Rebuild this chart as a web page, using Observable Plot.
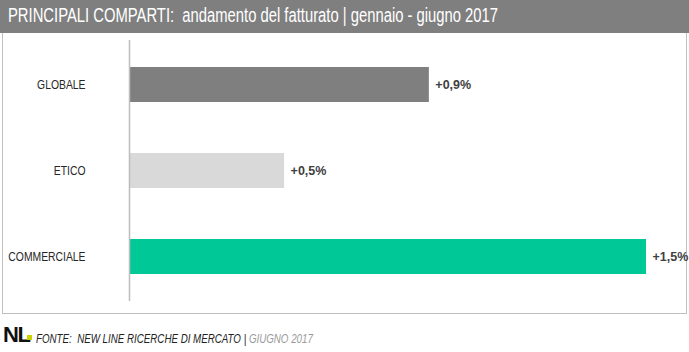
<!DOCTYPE html>
<html><head><meta charset="utf-8">
<script src="https://cdn.jsdelivr.net/npm/d3@7"></script>
<script src="https://cdn.jsdelivr.net/npm/@observablehq/plot@0.6"></script>
<style>
html,body{margin:0;padding:0;background:#fff;}
#wrap{position:relative;width:689px;height:352px;overflow:hidden;font-family:"Liberation Sans Narrow","Arial Narrow","Liberation Sans",sans-serif;}
#head{position:absolute;left:0;top:0;width:689px;height:33px;background:#7f7f7f;}
#title{position:absolute;left:8px;top:4px;color:#fff;font-size:20px;white-space:nowrap;transform-origin:0 0;transform:scaleX(0.74);}
#box{position:absolute;left:2px;top:33px;width:683px;height:280px;border:1px solid #c0c0c0;border-top:none;}
#chart{position:absolute;left:0;top:34px;}
#foot{position:absolute;left:3px;top:321px;white-space:nowrap;}
#logo{position:absolute;left:0;top:3px;font-family:"Liberation Sans",sans-serif;font-weight:bold;font-size:22px;letter-spacing:-1.5px;color:#111;line-height:22px;}
#dot{position:absolute;left:24px;top:14px;width:5px;height:5px;background:#c8d400;}
#src{position:absolute;left:33px;top:11px;font-size:12.5px;font-style:italic;color:#222;transform-origin:0 0;transform:scaleX(0.78);}
#src span{color:#9a9a9a;}
</style></head>
<body>
<div id="wrap">
  <div id="head"><div id="title">PRINCIPALI COMPARTI:&nbsp; andamento del fatturato | gennaio - giugno 2017</div></div>
  <div id="box"></div>
  <div id="chart"></div>
  <div id="foot"><div id="logo">NL</div><div id="dot"></div><div id="src">FONTE:&nbsp; NEW LINE RICERCHE DI MERCATO | <span>GIUGNO 2017</span></div></div>
</div>
<script>
const categories = ["GLOBALE", "ETICO", "COMMERCIALE"];
const values = [0.87, 0.45, 1.5];
const labels = ["+0,9%", "+0,5%", "+1,5%"];
const colors = ["#7f7f7f", "#d9d9d9", "#00c896"];

const data = categories.map((c, i) => ({cat: c, v: values[i], label: labels[i], color: colors[i]}));

const chart = Plot.plot({
  width: 689,
  height: 280,
  marginLeft: 129,
  marginRight: 43,
  marginTop: 15,
  marginBottom: 22,
  style: {fontFamily: '"Liberation Sans Narrow","Arial Narrow","Liberation Sans",sans-serif', background: "transparent"},
  x: {domain: [0, 1.5], axis: null},
  y: {domain: categories, paddingInner: 0.595, paddingOuter: 0.2, label: null},
  marks: [
    Plot.barX(data, {y: "cat", x: "v", fill: "color"}),
    Plot.ruleX([0], {stroke: "#bdbdbd", strokeWidth: 1.5, insetTop: -9, insetBottom: -9}),
    Plot.text(data, {y: "cat", x: "v", text: "label", textAnchor: "start", dx: 6, fontWeight: "bold", fontSize: 12.5, fill: "#404040"}),
    Plot.axisY({tickSize: 0, tickPadding: 44, fontSize: 12.5, color: "#262626", label: null})
  ]
});
// condense the category labels (narrow font look)
chart.querySelectorAll('g[aria-label="y-axis tick label"] text').forEach(el => {
  const t = el.getAttribute("transform") || "";
  el.setAttribute("transform", `${t} scale(0.83,1)`);
});
document.getElementById("chart").appendChild(chart);
</script>
</body></html>
